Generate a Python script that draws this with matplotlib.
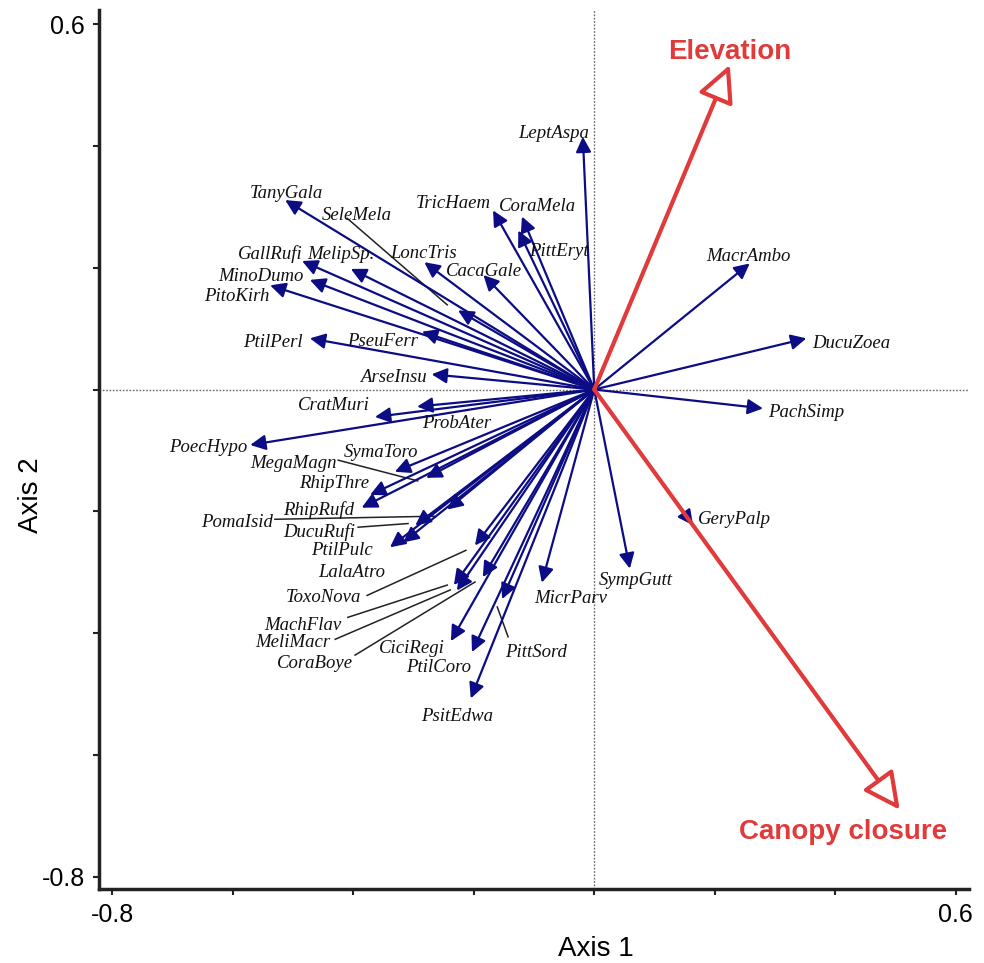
import matplotlib.pyplot as plt

# species scores on the first two axes
species = ["LeptAspa", "TanyGala", "SeleMela", "TricHaem", "CoraMela", "PittEryt",
           "LoncTris", "CacaGale", "MelipSp.", "GallRufi", "MinoDumo", "PitoKirh",
           "PtilPerl", "PseuFerr", "ArseInsu", "MacrAmbo", "DucuZoea", "PachSimp",
           "GeryPalp", "SympGutt", "MicrParv", "PittSord", "PsitEdwa", "PtilCoro",
           "CiciRegi", "CoraBoye", "MeliMacr", "MachFlav", "ToxoNova", "LalaAtro",
           "PtilPulc", "DucuRufi", "PomaIsid", "RhipRufd", "RhipThre", "MegaMagn",
           "SymaToro", "PoecHypo", "CratMuri", "ProbAter"]
axis1 = [-0.019, -0.513, -0.226, -0.168, -0.120, -0.126,
         -0.282, -0.184, -0.404, -0.485, -0.472, -0.538,
         -0.472, -0.286, -0.270, 0.258, 0.352, 0.280,
         0.164, 0.059, -0.087, -0.153, -0.205, -0.203,
         -0.238, -0.185, -0.228, -0.233, -0.198, -0.317,
         -0.339, -0.297, -0.244, -0.386, -0.372, -0.279,
         -0.331, -0.571, -0.364, -0.294]
axis2 = [0.415, 0.311, 0.130, 0.294, 0.284, 0.261,
         0.209, 0.188, 0.198, 0.211, 0.180, 0.171,
         0.084, 0.095, 0.025, 0.207, 0.084, -0.031,
         -0.223, -0.294, -0.317, -0.344, -0.507, -0.431,
         -0.413, -0.308, -0.330, -0.321, -0.256, -0.251,
         -0.259, -0.223, -0.197, -0.194, -0.173, -0.145,
         -0.135, -0.091, -0.045, -0.028]

# environmental variables
env_names = ["Elevation", "Canopy closure"]
env_axis1 = [0.225, 0.507]
env_axis2 = [0.533, -0.690]

# label placement (centre of each name)
label_pos = {
    "LeptAspa": (-0.068, 0.421), "TanyGala": (-0.511, 0.322), "SeleMela": (-0.394, 0.286),
    "TricHaem": (-0.234, 0.306), "CoraMela": (-0.095, 0.301), "PittEryt": (-0.059, 0.226),
    "LoncTris": (-0.283, 0.224), "CacaGale": (-0.183, 0.193), "MelipSp.": (-0.420, 0.221),
    "GallRufi": (-0.538, 0.222), "MinoDumo": (-0.553, 0.186), "PitoKirh": (-0.593, 0.152),
    "PtilPerl": (-0.533, 0.078), "PseuFerr": (-0.352, 0.079), "ArseInsu": (-0.334, 0.020),
    "MacrAmbo": (0.256, 0.219), "DucuZoea": (0.426, 0.076), "PachSimp": (0.351, -0.037),
    "GeryPalp": (0.232, -0.213), "SympGutt": (0.069, -0.313), "MicrParv": (-0.039, -0.343),
    "PittSord": (-0.097, -0.431), "PsitEdwa": (-0.228, -0.536), "PtilCoro": (-0.258, -0.457),
    "CiciRegi": (-0.303, -0.425), "CoraBoye": (-0.463, -0.449), "MeliMacr": (-0.500, -0.415),
    "MachFlav": (-0.483, -0.387), "ToxoNova": (-0.450, -0.341), "LalaAtro": (-0.402, -0.300),
    "PtilPulc": (-0.419, -0.265), "DucuRufi": (-0.457, -0.234), "PomaIsid": (-0.593, -0.218),
    "RhipRufd": (-0.458, -0.198), "RhipThre": (-0.432, -0.155), "MegaMagn": (-0.500, -0.121),
    "SymaToro": (-0.354, -0.103), "PoecHypo": (-0.640, -0.095), "CratMuri": (-0.432, -0.027),
    "ProbAter": (-0.228, -0.055),
}

# leader lines from crowded labels to their arrows
leaders = {
    "SeleMela": ((-0.410, 0.281), (-0.244, 0.139)),
    "MegaMagn": ((-0.425, -0.116), (-0.293, -0.150)),
    "PomaIsid": ((-0.530, -0.213), (-0.266, -0.208)),
    "DucuRufi": ((-0.392, -0.226), (-0.309, -0.220)),
    "ToxoNova": ((-0.377, -0.338), (-0.213, -0.264)),
    "MachFlav": ((-0.409, -0.374), (-0.244, -0.321)),
    "MeliMacr": ((-0.430, -0.410), (-0.239, -0.329)),
    "CoraBoye": ((-0.397, -0.436), (-0.198, -0.316)),
    "PittSord": ((-0.161, -0.357), (-0.143, -0.406)),
}
env_label_pos = [(0.225, 0.554), (0.413, -0.727)]

navy = "#0c0c84"
red = "#e03a3a"

fig = plt.figure(figsize=(9.84, 9.63), dpi=100)
ax = fig.add_axes([0.1006, 0.0768, 0.8842, 0.9128])

ax.axhline(0, color="#666666", lw=1.0, ls=(0, (1.2, 1.2)), zorder=1)
ax.axvline(0, color="#666666", lw=1.0, ls=(0, (1.2, 1.2)), zorder=1)

for (x0, y0), (x1, y1) in leaders.values():
    ax.plot([x0, x1], [y0, y1], color="#222222", lw=1.1, zorder=2)

for name, x, y in zip(species, axis1, axis2):
    ax.annotate("", xy=(x, y), xytext=(0, 0),
                arrowprops=dict(arrowstyle="-|>", color=navy, lw=1.6,
                                mutation_scale=23, shrinkA=0, shrinkB=0),
                zorder=3)
    lx, ly = label_pos[name]
    ax.text(lx, ly, name, family="Liberation Serif", style="italic",
            fontsize=13.5, ha="center", va="center", color="#111111", zorder=4)

for name, x, y, (lx, ly) in zip(env_names, env_axis1, env_axis2, env_label_pos):
    ax.annotate("", xy=(x, y), xytext=(0, 0),
                arrowprops=dict(arrowstyle="-|>,head_length=0.5,head_width=0.25",
                                fc="white", ec=red, lw=3,
                                mutation_scale=45, shrinkA=0, shrinkB=0),
                zorder=5)
    ax.text(lx, ly, name, family="Liberation Sans", weight="bold",
            fontsize=20, ha="center", va="center", color=red, zorder=6)

ax.set_xlim(-0.822, 0.622)
ax.set_ylim(-0.82, 0.623)
ticks = [-0.8, -0.6, -0.4, -0.2, 0.0, 0.2, 0.4, 0.6]
tick_labels = ["-0.8", "", "", "", "", "", "", "0.6"]
ax.set_xticks(ticks)
ax.set_xticklabels(tick_labels)
ax.set_yticks(ticks)
ax.set_yticklabels(tick_labels)
for lab in ax.get_xticklabels() + ax.get_yticklabels():
    lab.set_family("Liberation Sans")
    lab.set_fontsize(18)
ax.tick_params(direction="out", length=4, width=1.5, color="#222222", pad=6)

for side in ["top", "right"]:
    ax.spines[side].set_visible(False)
for side in ["left", "bottom"]:
    ax.spines[side].set_linewidth(2.5)
    ax.spines[side].set_color("#222222")

ax.set_xlabel("Axis 1", family="Liberation Sans", fontsize=20)
ax.set_ylabel("Axis 2", family="Liberation Sans", fontsize=20)
ax.xaxis.set_label_coords(0.571, -0.053)
ax.yaxis.set_label_coords(-0.063, 0.448)

fig.savefig("out.png", dpi=100, facecolor="white")
